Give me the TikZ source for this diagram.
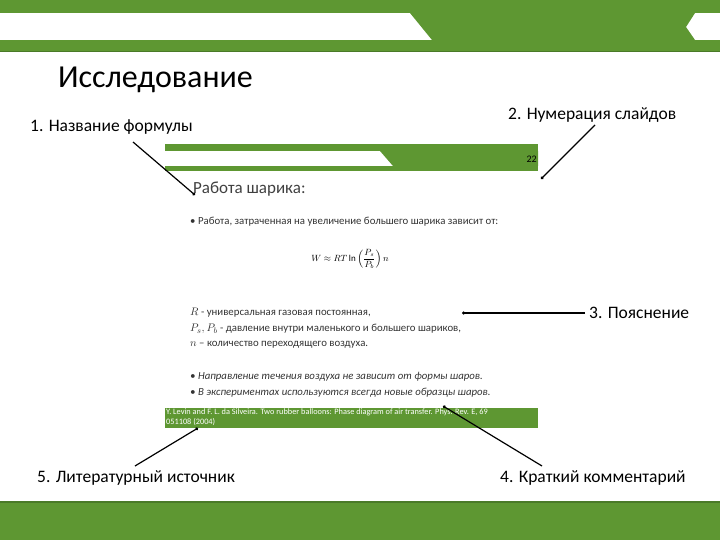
\documentclass[tikz,border=0pt]{standalone}
\usepackage{fontspec}
\setmainfont{Carlito}
\usetikzlibrary{arrows.meta}
\definecolor{gr}{HTML}{5E9732}
\definecolor{grd}{HTML}{4A7A28}
\begin{document}
\begin{tikzpicture}[x=1pt,y=-1pt,
  lbl/.style={anchor=west,font=\fontsize{17.5}{19}\selectfont,inner sep=0pt},
  small/.style={anchor=west,font=\fontsize{10.8}{12}\selectfont,inner sep=0pt,text=black!80},
  conn/.style={line width=1.2pt,-{Circle[length=3pt]}}]
\useasboundingbox (0,0) rectangle (720,540);
% top bar
\fill[gr] (0,0) rectangle (720,13);
\fill[gr] (0,40) rectangle (720,51);
\fill[gr] (410,13) -- (695,13) -- (686,27) -- (695,40) -- (432,40) -- cycle;
\fill[grd] (0,51) rectangle (720,52);
% bottom bar
\fill[grd] (0,501) rectangle (720,503);
\fill[gr] (0,503) rectangle (720,540);
% title
\node[anchor=west,font=\fontsize{32}{34}\selectfont,inner sep=0pt] (title) at (58,80) {Исследование};
% inner slide
\fill[gr] (165,144) rectangle (538,151);
\fill[gr] (165,166) rectangle (538,171);
\fill[gr] (380,151) -- (538,151) -- (538,166) -- (393,166) -- cycle;
\node[anchor=east,font=\fontsize{10}{11}\selectfont,inner sep=0pt] (num) at (537,159) {22};
\node[anchor=west,font=\fontsize{17}{19}\selectfont,inner sep=0pt,text=black!75] (head) at (193,189) {Работа шарика:};
\node[small] (b1) at (190,222) {• Работа, затраченная на увеличение большего шарика зависит от:};
\node[inner sep=0pt,font=\fontsize{9}{10}\selectfont] (eq) at (350,259) {$\displaystyle W \approx RT\ln\left(\frac{P_s}{P_b}\right)n$};
\node[small] (e1) at (190,313) {$R$ - универсальная газовая постоянная,};
\node[small] (e2) at (190,329) {$P_s, P_b$ - давление внутри маленького и большего шариков,};
\node[small] (e3) at (190,345) {$n$ – количество переходящего воздуха.};
\node[small,font=\itshape\fontsize{10.8}{12}\selectfont] (b2) at (190,377) {• Направление течения воздуха не зависит от формы шаров.};
\node[small,font=\itshape\fontsize{10.8}{12}\selectfont] (b3) at (190,393) {• В экспериментах используются всегда новые образцы шаров.};
\fill[gr] (165,408) rectangle (538,428);
\node[anchor=north west,inner sep=0pt,text=white,font=\fontsize{8.3}{9.5}\selectfont,align=left] (ref) at (166,409) {Y. Levin and F. L. da Silveira. Two rubber balloons: Phase diagram of air transfer. Phys. Rev. E, 69\\051108 (2004)};
% labels
\node[lbl] (l1) at (30,127) {1. Название формулы};
\node[lbl] (l2) at (508,115) {2. Нумерация слайдов};
\node[lbl] (l3) at (589,313) {3. Пояснение};
\node[lbl] (l4) at (500,478) {4. Краткий комментарий};
\node[lbl] (l5) at (37,478) {5. Литературный источник};
% connectors
\coordinate (c1a) at (133,142); \coordinate (c1b) at (195,195);
\coordinate (c2a) at (595,125); \coordinate (c2b) at (541,179);
\coordinate (c3a) at (585,313); \coordinate (c3b) at (462,313);
\coordinate (c4a) at (542,466); \coordinate (c4b) at (443,406);
\coordinate (c5a) at (135,466); \coordinate (c5b) at (198,428);
\draw[conn] (c1a) -- (c1b);
\draw[conn] (c2a) -- (c2b);
\draw[conn] (c3a) -- (c3b);
\draw[conn] (c4a) -- (c4b);
\draw[conn] (c5a) -- (c5b);
\end{tikzpicture}
\end{document}
